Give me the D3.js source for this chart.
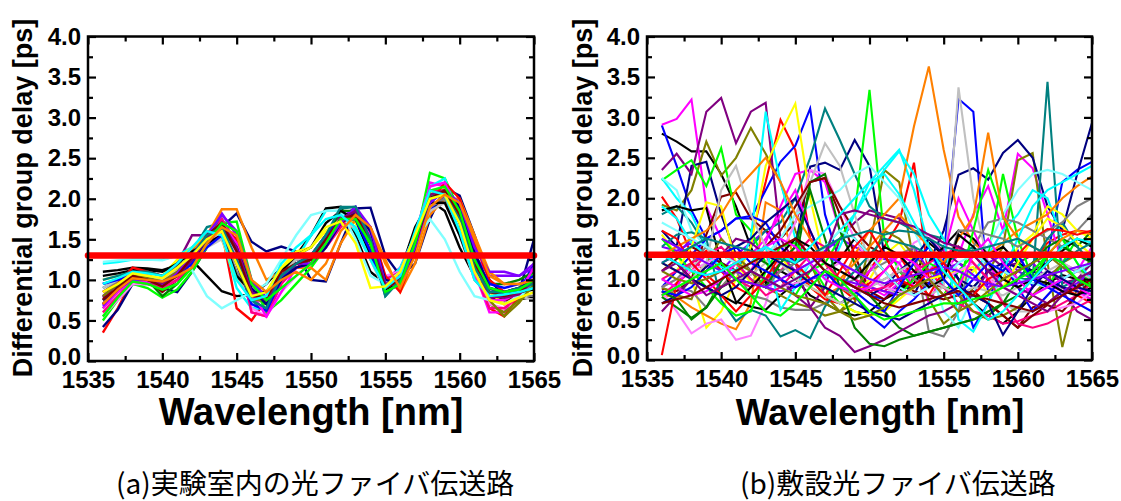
<!DOCTYPE html>
<html><head><meta charset="utf-8">
<script src="https://cdn.jsdelivr.net/npm/d3@7"></script>
<style>
html,body{margin:0;padding:0;background:#fff;}
svg{display:block;}
</style></head><body>
<svg id="chart" width="1121" height="501"></svg>
<script>
// Wavelength grid of every measured trace (nm)
const wavelengths = [1536,1537,1538,1539,1540,1541,1542,1543,1544,1545,1546,1547,1548,1549,1550,
                     1551,1552,1553,1554,1555,1556,1557,1558,1559,1560,1561,1562,1563,1564,1565];
const xTickValues = [1535,1540,1545,1550,1555,1560,1565];
const yTickValues = [0.0,0.5,1.0,1.5,2.0,2.5,3.0,3.5,4.0];
const xMinorValues = [1537.5,1542.5,1547.5,1552.5,1557.5,1562.5];
const yMinorValues = [0.25,0.75,1.25,1.75,2.25,2.75,3.25,3.75];
const thresholdPs = 1.3;

// (a) laboratory fiber link: DGD traces [ps]
const labSeries = [
 [1.10,1.12,1.15,1.14,1.12,1.18,1.24,1.05,0.86,0.80,0.82,0.95,1.15,1.30,1.55,1.88,1.90,1.55,1.10,0.95,1.10,1.65,1.98,1.85,1.40,1.04,0.79,0.75,0.76,0.79],
 [0.35,0.65,1.00,1.05,0.95,1.05,1.30,1.60,1.60,0.65,0.50,0.75,1.10,1.25,1.30,1.55,1.75,1.75,1.55,1.00,1.05,1.40,2.05,2.15,1.90,1.20,0.65,0.55,0.80,1.05],
 [0.95,1.00,1.05,1.02,1.00,1.10,1.30,1.45,1.55,1.20,0.65,0.65,1.15,1.25,1.30,1.50,1.70,1.80,1.45,0.85,1.00,1.45,1.85,2.05,1.80,1.30,0.90,0.80,0.85,1.20],
 [0.70,0.85,1.00,0.98,0.92,1.00,1.15,1.45,1.65,1.55,0.60,0.55,0.95,1.20,1.25,1.45,1.70,1.85,1.50,1.00,1.15,1.55,2.20,2.15,1.75,1.10,0.60,0.60,0.90,1.05],
 [0.65,0.85,1.00,0.98,0.95,1.05,1.30,1.55,1.75,1.45,0.80,0.70,1.00,1.15,1.20,1.45,1.70,1.85,1.60,1.00,0.95,1.40,2.00,2.10,1.85,1.25,0.70,0.60,0.75,0.95],
 [0.42,0.63,0.95,0.95,0.90,0.85,1.10,1.40,1.65,1.82,1.47,1.35,1.41,1.35,1.00,0.98,1.45,1.88,1.89,1.30,1.05,1.20,1.75,2.13,2.04,1.55,1.00,0.80,0.85,1.50],
 [0.80,0.95,1.08,1.05,1.00,1.10,1.30,1.55,1.82,1.55,0.80,0.80,1.05,1.20,1.20,1.45,1.75,1.90,1.60,0.90,0.95,1.50,2.05,2.10,1.90,1.30,1.05,1.05,1.05,1.15],
 [0.78,0.95,1.05,1.05,1.00,1.20,1.55,1.55,1.60,1.20,0.75,0.80,1.10,1.25,1.30,1.55,1.80,1.80,1.35,0.90,1.05,1.50,2.05,2.10,1.70,1.10,0.80,0.70,0.85,1.05],
 [0.70,0.90,1.05,1.00,0.85,1.00,1.25,1.50,1.72,1.30,0.85,0.75,1.05,1.15,1.25,1.45,1.70,1.80,1.50,0.95,1.00,1.40,2.00,2.15,1.80,1.20,0.80,0.75,0.80,0.95],
 [0.90,1.00,1.10,1.10,1.05,1.15,1.35,1.65,1.70,1.30,0.75,0.60,1.00,1.20,1.25,1.50,1.88,1.90,1.45,0.80,1.00,1.45,2.05,2.05,1.70,1.10,0.80,0.80,0.85,1.00],
 [0.50,0.75,0.95,0.90,0.78,0.88,1.10,1.40,1.70,1.72,1.00,0.60,0.75,0.95,1.15,1.40,1.70,1.65,1.45,0.90,1.00,1.45,2.32,2.25,1.85,1.25,0.90,0.85,0.90,1.10],
 [1.20,1.22,1.25,1.25,1.25,1.30,1.40,1.50,1.55,0.90,0.65,0.65,1.10,1.25,1.55,1.85,1.85,1.60,1.25,0.95,1.15,1.55,2.15,2.25,1.75,1.10,0.85,0.80,0.85,0.95],
 [1.00,1.05,1.10,1.08,1.05,1.25,1.40,1.55,1.50,1.00,0.80,0.85,1.15,1.35,1.40,1.60,1.75,1.70,1.30,0.85,0.95,1.40,2.05,2.15,1.80,1.20,0.85,0.70,0.80,0.90],
 [0.75,0.90,1.05,1.05,1.00,1.10,1.35,1.55,1.87,1.87,1.40,1.00,1.10,1.15,1.15,1.00,1.45,1.75,1.65,1.25,0.85,1.20,1.80,2.00,2.00,1.55,1.10,0.95,0.95,1.00],
 [0.55,0.75,0.95,0.95,0.90,1.00,1.20,1.40,1.60,1.30,0.65,0.55,0.85,1.05,1.20,1.40,1.65,1.80,1.60,1.05,1.10,1.50,2.10,2.15,1.85,1.15,0.70,0.65,0.85,1.05],
 [0.85,0.98,1.05,1.00,0.98,1.08,1.25,1.45,1.55,1.10,0.75,0.80,1.10,1.25,1.25,1.50,1.70,1.75,1.30,0.85,0.95,1.45,1.90,2.00,1.60,1.00,0.80,0.80,0.82,0.80],
 [0.90,1.00,1.08,1.05,1.00,1.12,1.30,1.40,1.50,1.05,0.78,0.85,1.10,1.25,1.30,1.55,1.70,1.65,1.25,0.85,1.00,1.50,1.85,1.95,1.55,1.00,0.85,0.85,0.80,0.75],
 [0.70,0.92,1.05,1.00,0.80,0.95,1.20,1.55,1.70,1.40,0.85,0.70,1.05,1.20,1.25,1.55,1.85,1.85,1.55,0.90,0.95,1.40,2.05,2.10,1.85,1.30,0.95,0.95,1.00,1.10],
 [0.60,0.80,0.98,0.95,0.90,1.00,1.20,1.45,1.75,1.45,0.60,0.55,0.95,1.15,1.20,1.40,1.65,1.80,1.55,1.00,1.10,1.55,2.10,2.10,1.80,1.10,0.65,0.65,0.80,1.00],
 [1.22,1.24,1.25,1.25,1.24,1.30,1.12,0.80,0.65,0.75,0.85,0.95,1.25,1.55,1.80,1.85,1.85,1.50,1.05,0.95,1.10,1.50,1.75,1.50,1.10,0.80,0.75,0.70,0.80,0.90],
 [1.05,1.08,1.12,1.12,1.10,1.20,1.35,1.45,1.55,1.05,0.85,0.85,1.10,1.30,1.40,1.70,1.85,1.75,1.30,0.88,1.00,1.55,1.95,1.95,1.55,1.05,0.85,0.85,0.85,0.88],
 [0.85,0.95,1.15,1.10,1.05,1.15,1.30,1.45,1.65,1.50,0.95,0.75,1.05,1.20,1.30,1.50,1.70,1.80,1.65,1.05,0.85,1.35,1.95,2.20,2.00,1.45,1.00,0.85,0.90,0.95],
 [0.95,1.00,1.05,1.00,0.95,1.05,1.20,1.40,1.55,1.25,0.70,0.62,1.00,1.20,1.30,1.55,1.75,1.75,1.35,0.85,0.95,1.45,1.95,2.10,1.85,1.30,0.95,0.90,0.95,1.05],
 [0.65,0.85,1.00,0.98,0.95,1.05,1.25,1.50,1.70,1.45,0.85,0.55,0.85,1.15,1.20,1.45,1.75,1.85,1.55,0.95,1.05,1.55,2.15,2.20,1.80,1.05,0.75,0.75,0.85,1.15],
 [0.80,0.95,1.05,1.02,0.98,1.10,1.30,1.50,1.65,1.20,0.75,0.75,1.05,1.20,1.25,1.50,1.75,1.80,1.45,0.90,1.00,1.45,2.05,2.10,1.85,1.25,0.75,0.55,0.72,0.95],
 [0.75,0.90,1.02,1.00,0.95,1.05,1.25,1.45,1.65,1.40,0.90,0.70,1.00,1.15,1.20,1.40,1.70,1.85,1.60,1.00,0.95,1.35,2.00,2.10,1.90,1.35,0.90,0.85,0.90,1.00],
 [0.68,0.88,1.00,1.00,0.95,1.08,1.30,1.55,1.80,1.60,1.00,0.78,1.05,1.20,1.20,1.45,1.70,1.90,1.65,0.95,0.95,1.40,1.95,2.10,1.95,1.40,1.10,1.10,1.05,1.20],
 [0.70,0.88,1.02,1.00,0.96,1.05,1.25,1.50,1.70,1.40,0.85,0.75,1.05,1.20,1.25,1.50,1.75,1.85,1.50,0.95,1.00,1.45,2.05,2.10,1.80,1.20,0.80,0.78,0.82,1.00],
 [0.76,0.90,1.05,1.00,0.92,1.05,1.28,1.55,1.70,1.35,0.80,0.78,1.10,1.20,1.25,1.50,1.75,1.80,1.45,0.90,1.00,1.45,2.00,2.10,1.80,1.20,0.85,0.80,0.85,1.00],
 [1.00,1.05,1.10,1.10,1.05,1.15,1.30,1.55,1.65,1.25,0.75,0.65,1.05,1.20,1.30,1.55,1.90,1.90,1.50,0.80,1.00,1.50,2.00,2.05,1.75,1.15,0.85,0.85,0.90,0.95],
 [0.55,0.78,0.98,0.95,0.88,0.95,1.15,1.45,1.70,1.60,0.95,0.75,0.90,1.05,1.20,1.45,1.75,1.75,1.45,0.85,0.95,1.45,2.10,2.15,1.85,1.25,0.90,0.85,0.88,1.00],
 [0.95,1.02,1.10,1.08,1.05,1.20,1.40,1.60,1.55,1.00,0.75,0.80,1.20,1.40,1.55,1.75,1.80,1.65,1.25,0.90,1.05,1.60,2.10,2.05,1.60,1.00,0.80,0.82,0.85,0.90],
 [0.85,0.95,1.08,1.05,1.02,1.15,1.30,1.50,1.60,1.20,0.80,0.85,1.15,1.30,1.40,1.65,1.72,1.45,0.90,0.92,1.10,1.55,2.00,2.05,1.70,1.10,0.75,0.70,0.78,0.85],
 [0.70,0.88,1.02,1.00,0.98,1.05,1.15,1.45,1.65,1.55,1.00,0.85,1.00,1.10,1.00,1.20,1.60,1.80,1.65,1.20,0.90,1.30,1.90,2.05,1.95,1.50,1.05,0.95,0.95,1.00]
];

// (b) installed field fiber link: DGD traces [ps]
const fieldSeries = [
 [2.80,2.70,2.58,2.58,2.30,1.90,1.40,0.95,1.10,1.00,0.80,0.70,0.60,0.55,0.60,0.75,0.85,1.00,1.45,1.30,1.00,0.70,0.55,0.45,0.60,0.80,0.95,1.05,1.00,0.95],
 [2.02,1.75,1.30,1.05,0.90,1.10,1.50,2.20,2.97,2.60,1.50,1.20,0.90,0.75,1.10,1.40,1.70,2.44,1.00,1.20,1.40,1.30,1.10,0.90,1.00,1.20,1.45,1.55,1.60,1.58],
 [2.90,2.40,1.85,1.50,1.60,1.75,1.75,2.10,2.45,2.65,3.11,1.80,1.20,1.00,0.80,0.75,0.95,1.20,0.90,1.25,3.23,3.07,0.80,1.00,1.35,0.90,1.30,2.20,2.35,2.45],
 [2.91,2.98,3.22,1.90,1.50,1.30,1.10,1.45,1.90,2.30,2.35,2.20,1.60,1.20,0.90,0.80,0.95,1.30,0.70,1.10,1.30,1.80,2.15,1.60,2.55,2.37,1.80,1.20,1.10,1.40],
 [1.92,1.85,2.10,2.70,2.28,2.50,2.87,2.55,2.20,1.60,1.20,0.80,0.60,0.70,1.40,2.35,2.20,1.20,0.75,0.45,0.60,0.90,1.10,1.40,2.47,2.56,1.20,0.16,0.90,1.30],
 [1.60,1.40,2.40,2.45,1.80,1.30,1.10,0.90,1.20,1.40,2.39,2.44,2.35,2.72,2.40,1.30,1.00,0.80,1.20,1.60,2.29,2.37,2.23,2.56,2.72,2.50,1.90,1.60,2.30,2.93],
 [1.20,1.30,1.50,1.30,1.10,1.30,1.45,1.60,1.30,1.10,1.20,1.35,1.50,1.40,1.30,1.25,1.20,1.40,1.10,0.90,0.80,1.00,1.20,1.30,1.10,1.00,1.05,1.15,1.10,1.05],
 [2.35,2.55,2.30,3.07,3.24,2.68,3.07,3.18,1.50,1.20,0.65,0.90,1.50,1.70,1.85,1.80,1.75,1.60,1.50,1.35,1.20,1.10,1.30,1.15,1.20,1.30,1.10,0.95,1.00,1.20],
 [0.88,0.85,1.00,1.55,2.02,2.07,1.75,1.60,1.50,1.70,2.20,2.25,1.80,1.30,0.85,0.75,0.90,1.00,0.95,0.90,0.85,0.80,0.70,0.55,0.40,0.65,0.70,0.85,0.90,1.10],
 [1.80,1.90,1.70,1.40,1.20,1.10,1.40,1.60,1.70,2.00,2.50,3.11,2.72,2.30,1.90,1.75,1.70,1.60,1.55,1.50,1.35,1.30,1.35,1.25,1.00,1.00,3.44,0.90,1.00,0.80],
 [2.22,2.35,2.47,2.15,2.62,1.80,1.60,1.20,1.00,0.80,1.10,1.20,1.50,1.80,3.34,1.50,1.10,0.90,1.00,0.80,1.10,1.30,1.30,2.30,1.50,1.00,0.90,1.20,1.50,1.40],
 [2.25,2.00,1.80,1.40,1.20,1.10,1.50,3.07,2.20,1.50,1.20,1.00,1.40,1.80,2.20,2.40,2.60,2.10,1.40,0.90,0.80,1.10,1.30,1.60,1.80,2.10,2.00,1.50,1.20,1.00],
 [1.55,1.30,1.00,0.40,0.60,1.00,1.40,2.40,2.80,3.17,2.00,1.20,0.90,0.80,1.00,1.30,1.45,1.20,1.00,0.80,0.95,1.10,1.20,1.00,1.40,1.55,1.90,1.80,1.60,1.50],
 [0.80,0.78,0.65,0.55,0.45,0.38,0.70,1.95,1.85,1.20,0.90,0.80,0.90,1.30,1.60,1.80,2.00,2.89,3.63,2.60,1.77,1.45,1.30,1.45,1.60,1.70,1.80,2.00,2.15,2.27],
 [0.85,0.60,0.33,0.45,0.50,0.25,0.30,0.70,1.30,1.70,2.35,2.30,1.90,1.50,1.20,0.90,1.20,1.45,1.55,1.30,1.10,1.00,0.90,1.20,1.00,0.80,0.90,0.85,0.80,0.75],
 [1.00,0.90,0.85,0.65,0.90,1.10,0.80,0.75,0.65,0.62,0.62,0.70,0.90,1.00,1.10,1.20,1.30,1.40,0.35,0.29,0.60,1.40,1.70,1.75,1.70,1.60,1.50,1.40,1.60,1.80],
 [1.10,1.20,1.15,1.30,1.10,1.00,1.05,1.20,1.50,1.80,2.20,2.68,2.40,1.80,1.20,0.90,0.80,0.85,0.80,0.90,3.37,2.00,1.20,0.70,0.60,0.60,0.80,1.00,1.10,1.20],
 [0.78,0.65,0.52,0.65,0.98,1.20,1.30,1.20,1.10,1.20,2.20,2.30,1.60,1.20,0.80,0.60,0.40,0.30,0.35,0.40,0.45,0.50,0.55,0.70,1.00,1.20,1.40,1.50,1.40,1.60],
 [0.80,0.95,1.10,1.30,1.20,1.00,0.90,1.00,1.10,1.30,1.50,1.40,1.20,1.00,0.90,0.85,1.00,1.20,1.10,0.90,0.70,0.60,0.55,0.45,0.48,0.55,0.60,0.70,0.80,0.95],
 [2.25,2.10,1.60,1.40,1.20,1.10,1.20,1.30,1.50,1.80,1.90,2.00,2.10,2.30,2.40,2.20,2.00,1.60,1.20,0.60,0.40,0.80,1.40,1.80,2.10,2.30,2.35,2.30,2.20,2.10],
 [1.85,1.90,1.85,1.88,1.20,0.72,0.66,0.62,0.80,0.95,1.00,1.10,1.25,1.50,1.30,1.10,0.90,0.95,1.20,1.40,1.60,1.50,1.30,1.40,1.20,1.10,1.20,1.35,1.50,1.40],
 [0.06,0.95,1.20,1.35,1.10,0.90,0.80,1.00,1.20,1.10,0.90,0.75,0.70,0.80,0.95,1.10,1.30,1.00,0.80,1.10,1.40,1.20,1.00,0.90,1.10,1.20,1.00,0.90,0.80,0.70],
 [0.90,1.10,1.30,1.50,1.60,1.75,1.78,1.70,1.40,1.20,1.00,0.80,0.70,0.80,0.55,0.40,0.60,0.75,0.95,1.20,1.00,0.40,0.70,1.20,0.90,0.60,0.80,1.00,1.10,1.20],
 [0.80,0.90,1.20,1.00,1.10,1.20,1.30,1.50,1.80,2.10,1.60,1.20,1.00,0.90,1.10,1.30,1.20,0.90,1.10,1.30,2.00,1.60,1.20,0.90,0.80,0.90,1.10,1.00,0.85,0.75],
 [0.90,0.80,0.75,1.20,1.50,1.30,1.10,0.90,0.80,0.70,0.65,0.55,0.60,0.80,1.20,1.60,1.50,1.30,1.10,1.00,0.80,0.60,0.50,0.55,0.65,0.80,1.00,1.20,1.30,1.25],
 [0.70,0.80,1.00,1.15,1.30,1.40,1.50,1.70,1.85,2.00,1.60,1.20,1.00,0.90,0.80,0.90,1.10,1.25,1.50,1.30,1.00,0.90,1.10,1.20,1.15,1.10,1.00,0.90,0.85,0.80],
 [1.40,1.35,1.45,1.30,1.20,1.10,1.00,0.90,0.85,0.90,1.00,1.05,1.00,0.95,0.90,0.85,0.80,0.90,1.00,1.10,1.20,1.05,0.90,1.00,1.10,1.20,1.00,0.85,0.95,1.10],
 [0.60,0.80,1.00,1.10,1.30,1.50,1.45,1.30,1.00,0.80,0.65,0.40,0.30,0.10,0.17,0.25,0.35,0.45,0.55,0.60,0.70,0.80,1.10,1.00,0.90,0.80,0.70,0.85,0.60,0.50],
 [1.10,1.25,1.40,1.30,1.20,1.10,1.20,1.40,1.60,1.90,2.20,2.25,1.90,1.60,1.40,1.30,1.00,0.85,0.80,0.75,0.80,0.85,0.70,0.55,0.40,0.55,0.68,0.60,0.80,1.00],
 [1.40,1.55,1.58,1.50,0.74,0.48,0.62,0.55,0.29,0.37,0.27,0.66,0.90,1.10,1.30,1.50,1.45,1.40,1.30,1.20,1.30,1.40,1.20,1.10,1.00,1.20,1.50,1.70,1.40,1.20],
 [1.50,1.30,1.10,0.90,0.70,0.55,0.60,1.10,1.40,1.45,1.20,0.90,0.70,0.60,0.55,0.60,0.80,1.00,1.20,1.10,0.90,1.60,2.35,1.80,1.20,1.00,1.30,1.50,1.20,0.90],
 [1.90,1.75,1.45,1.30,1.15,1.10,1.20,1.40,0.62,0.90,1.20,1.40,1.60,1.80,2.10,2.35,2.58,2.30,1.80,1.50,0.50,0.35,0.70,1.10,1.50,1.90,2.10,2.20,2.30,2.40],
 [1.20,1.10,1.40,1.95,1.90,1.20,0.95,1.10,1.30,1.00,0.90,0.80,0.70,0.60,0.55,0.60,0.75,0.90,1.00,1.05,1.10,1.15,0.80,0.90,1.20,1.50,1.75,1.65,1.45,1.30],
 [1.30,1.40,1.50,1.60,1.80,2.10,2.30,2.50,2.20,1.80,1.50,1.20,1.00,1.20,1.40,1.60,1.80,1.60,1.40,1.20,1.50,1.77,2.81,1.77,1.50,1.40,1.30,1.50,1.60,1.55],
 [0.90,1.00,1.10,1.20,1.30,1.20,1.10,1.00,0.90,0.95,1.00,1.10,1.20,1.10,1.00,0.90,0.85,0.80,0.90,1.00,1.10,1.20,1.00,0.90,0.80,0.70,0.60,0.65,0.70,0.85],
 [0.90,1.00,1.20,1.40,1.30,1.20,1.00,0.90,1.10,1.20,1.30,1.10,0.90,0.80,0.90,1.00,1.10,1.00,0.90,1.00,1.60,1.60,1.55,1.50,1.40,1.50,1.60,1.70,1.90,2.00],
 [0.80,0.90,1.00,1.20,2.10,2.40,1.80,1.40,1.20,1.00,0.90,0.80,0.70,0.80,0.90,1.00,1.10,1.20,1.00,0.90,0.80,0.90,0.85,0.80,0.90,1.00,1.10,1.20,1.10,1.00],
 [0.85,0.75,0.50,0.65,0.90,1.00,0.95,0.90,1.20,1.40,2.10,1.50,0.90,0.40,0.20,0.17,0.25,0.30,0.35,0.40,0.45,0.50,0.60,0.70,0.80,1.00,1.20,1.40,1.30,1.20],
 [1.00,1.10,1.20,1.30,1.40,1.20,1.00,0.80,0.90,1.10,1.30,1.20,1.00,0.90,0.85,0.90,1.00,1.10,1.20,1.30,1.40,1.20,1.00,0.70,0.45,0.40,0.45,0.55,0.65,0.75],
 [1.70,1.60,1.50,1.40,1.30,1.20,1.10,1.00,0.90,1.00,1.20,1.40,1.60,1.50,1.30,1.10,0.90,0.80,0.90,1.00,1.20,1.30,1.20,1.10,1.00,0.95,0.90,1.00,1.10,1.20],
 [1.30,1.20,1.00,0.90,0.80,0.70,0.90,1.10,1.30,1.50,1.40,1.20,1.10,1.00,1.20,1.40,1.30,1.10,0.90,1.00,1.55,1.40,1.20,1.00,0.90,1.00,0.95,0.85,0.80,0.90],
 [1.60,1.50,1.20,1.00,0.80,0.60,0.80,1.00,1.30,1.20,1.00,0.80,1.10,1.40,1.60,1.30,1.00,0.90,1.10,1.20,0.90,0.80,1.00,1.10,1.30,1.50,1.62,1.60,1.55,1.60],
 [0.85,0.80,0.90,1.10,1.30,1.40,1.20,1.10,1.00,0.90,1.00,1.10,0.90,0.85,0.70,0.60,0.90,1.20,1.40,1.00,0.80,1.00,1.20,1.10,1.30,1.00,0.90,0.80,0.70,0.60],
 [1.00,0.90,0.80,0.85,1.00,1.20,1.30,1.40,1.50,1.40,1.20,1.00,0.90,0.85,0.90,1.10,1.30,1.20,1.00,0.80,0.90,1.30,1.50,1.20,1.00,0.80,0.90,1.00,0.90,0.80],
 [1.10,1.00,0.95,1.00,1.10,1.20,1.10,1.00,0.90,0.80,0.75,0.70,0.60,0.50,0.55,0.65,0.80,0.90,1.00,0.80,0.60,0.70,0.85,1.00,1.10,1.20,1.30,1.15,1.00,0.90],
 [1.20,1.10,1.00,0.90,0.80,0.90,1.10,1.30,1.20,1.10,0.95,0.90,0.80,0.70,0.60,0.55,0.50,0.60,0.70,0.80,0.90,0.80,0.70,0.31,0.60,0.90,1.10,1.00,0.90,0.85],
 [1.50,1.40,1.30,1.20,1.10,1.00,0.95,0.90,1.00,1.10,1.20,1.30,1.20,1.10,1.00,0.95,1.00,1.05,1.10,1.15,1.10,1.00,0.95,0.90,0.95,1.00,1.05,1.10,1.15,1.20],
 [1.10,1.20,1.00,0.80,0.90,1.00,1.10,1.00,0.90,1.00,1.10,1.30,1.80,1.85,1.80,1.75,1.70,1.65,1.55,1.45,1.40,1.30,1.10,0.90,0.80,0.70,0.60,0.80,1.00,1.10],
 [0.70,0.75,0.80,0.90,1.00,1.10,1.20,1.30,1.40,1.50,1.30,1.10,1.00,0.90,0.80,0.70,0.65,0.70,0.75,0.80,0.85,0.80,0.75,0.70,0.65,0.60,0.70,0.80,0.90,1.00],
 [1.20,1.30,1.40,1.50,1.45,1.40,1.35,1.30,1.25,1.20,1.30,1.40,1.50,1.55,1.60,1.55,1.60,1.58,1.50,1.40,1.35,1.35,1.40,1.45,1.50,1.40,1.30,1.20,1.35,1.45],
 [0.80,0.90,1.00,1.10,1.20,1.00,0.80,0.60,0.55,0.70,0.90,1.10,1.00,0.80,0.60,0.50,0.55,0.60,0.65,0.70,0.70,0.75,0.80,0.90,1.00,1.10,1.30,1.20,1.00,0.90],
 [1.30,1.20,1.10,1.05,1.10,1.20,1.30,1.40,1.30,1.20,1.40,1.60,1.80,2.00,2.20,2.30,2.05,1.70,1.40,1.10,0.90,0.70,0.50,0.60,0.80,1.00,1.20,1.40,1.50,1.45]
];

const xTitle = "Wavelength [nm]";
const yTitle = "Differential group delay [ps]";
const captions = ["(a)実験室内の光ファイバ伝送路", "(b)敷設光ファイバ伝送路"];

// Default plot-colour cycle for the traces
const palette = ["#000000","#ff0000","#0000ff","#ff00ff","#808000","#000080","#8000ff","#800080",
                 "#800000","#008080","#00ff00","#00ffff","#ffff00","#ff8000","#ff80ff","#808080",
                 "#c0c0c0","#008000","#ff0080","#80ffff"];

const svg = d3.select("#chart");
const LATIN = "'Liberation Sans', Arial, sans-serif";
const CJK = "'Noto Sans CJK JP', sans-serif";

function drawPanel(series, box, cfg) {
  const x = d3.scaleLinear().domain([1535, 1565]).range([box.left, box.right]);
  const y = d3.scaleLinear().domain([0, 4]).range([box.bottom, box.top]);
  const g = svg.append("g");

  const line = d3.line().x((d, i) => x(wavelengths[i])).y(d => y(d));
  g.append("g").selectAll("path").data(series).join("path")
    .attr("d", line)
    .attr("fill", "none")
    .attr("stroke", (d, i) => palette[i % palette.length])
    .attr("stroke-width", cfg.lineWidth)
    .attr("stroke-linejoin", "miter");

  // threshold line at 1.3 ps
  g.append("path")
    .attr("d", d3.line().x(d => x(d)).y(() => y(thresholdPs))([1535, 1565]))
    .attr("stroke", "#ff0000").attr("stroke-width", 6.5)
    .attr("stroke-linecap", "round").attr("fill", "none");

  const styleAxis = sel => {
    sel.select(".domain").remove();
    sel.selectAll(".tick line").attr("stroke", "#000").attr("stroke-width", 2.2);
    sel.selectAll("text").attr("font-family", LATIN).attr("font-weight", "bold")
      .attr("font-size", 24).attr("fill", "#000");
  };
  const major = 8, minor = 5;
  g.append("g").attr("transform", `translate(0,${box.bottom})`)
    .call(d3.axisBottom(x).tickValues(xTickValues).tickSize(-major).tickPadding(10).tickFormat(d3.format("d")))
    .call(styleAxis);
  g.append("g").attr("transform", `translate(0,${box.bottom})`)
    .call(d3.axisBottom(x).tickValues(xMinorValues).tickSize(-minor).tickFormat(""))
    .call(styleAxis);
  g.append("g").attr("transform", `translate(0,${box.top})`)
    .call(d3.axisTop(x).tickValues(xTickValues).tickSize(-major).tickFormat(""))
    .call(styleAxis);
  g.append("g").attr("transform", `translate(0,${box.top})`)
    .call(d3.axisTop(x).tickValues(xMinorValues).tickSize(-minor).tickFormat(""))
    .call(styleAxis);
  const yAxisG = g.append("g").attr("transform", `translate(${box.left},0)`)
    .call(d3.axisLeft(y).tickValues(yTickValues).tickSize(-major).tickPadding(7).tickFormat(d3.format(".1f")))
    .call(styleAxis);
  // the bottom label sits a little higher so it clears the wavelength labels
  yAxisG.selectAll(".tick").filter(d => d === 0).select("text").attr("y", -4);
  g.append("g").attr("transform", `translate(${box.left},0)`)
    .call(d3.axisLeft(y).tickValues(yMinorValues).tickSize(-minor).tickFormat(""))
    .call(styleAxis);
  g.append("g").attr("transform", `translate(${box.right},0)`)
    .call(d3.axisRight(y).tickValues(yTickValues).tickSize(-major).tickFormat(""))
    .call(styleAxis);
  g.append("g").attr("transform", `translate(${box.right},0)`)
    .call(d3.axisRight(y).tickValues(yMinorValues).tickSize(-minor).tickFormat(""))
    .call(styleAxis);

  // frame
  g.append("rect")
    .attr("x", box.left).attr("y", box.top)
    .attr("width", box.right - box.left).attr("height", box.bottom - box.top)
    .attr("fill", "none").attr("stroke", "#000").attr("stroke-width", 2.5);

  // axis titles
  g.append("text")
    .attr("x", cfg.xTitleX).attr("y", 425)
    .attr("text-anchor", "middle")
    .attr("font-family", LATIN).attr("font-weight", "bold").attr("font-size", cfg.xTitleSize)
    .text(xTitle);
  g.append("text")
    .attr("transform", `translate(${cfg.yTitleX},198) rotate(-90)`)
    .attr("text-anchor", "middle")
    .attr("font-family", LATIN).attr("font-weight", "bold").attr("font-size", 27)
    .text(yTitle);

  // caption
  g.append("text")
    .attr("x", cfg.captionX).attr("y", 494)
    .attr("font-family", CJK).attr("font-size", 28).attr("fill", "#000")
    .text(cfg.caption);
}

drawPanel(labSeries, {left: 88, right: 534, top: 36.5, bottom: 361},
  {lineWidth: 2.4, xTitleX: 311, xTitleSize: 38, yTitleX: 32, captionX: 116, caption: captions[0]});
drawPanel(fieldSeries, {left: 647, right: 1092, top: 36.5, bottom: 360},
  {lineWidth: 2.1, xTitleX: 880, xTitleSize: 36, yTitleX: 592, captionX: 740, caption: captions[1]});
</script>
</body></html>
